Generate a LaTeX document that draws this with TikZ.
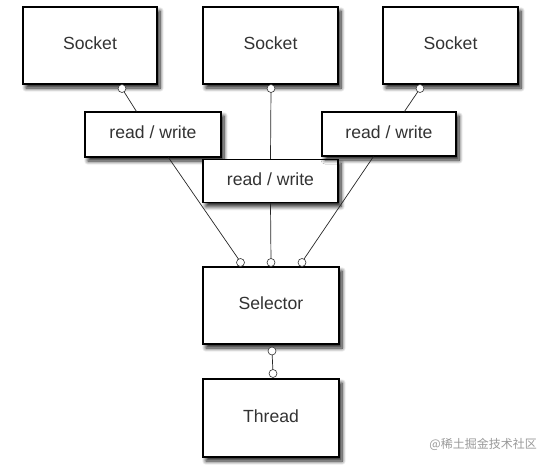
\documentclass[tikz,border=0pt]{standalone}
\usepackage{fontspec}
\setmainfont{Liberation Sans}
\newfontfamily\cjk{Noto Sans CJK SC}
\usetikzlibrary{shadows.blur}
\begin{document}
\begin{tikzpicture}[x=1pt,y=-1pt,
  box/.style={draw=black, line width=1.1pt, fill=white, inner sep=0pt,
    font=\fontsize{17.6}{20}\selectfont, text=black!80, text height=12.6pt, text depth=4pt,
    blur shadow={shadow xshift=3pt, shadow yshift=-4pt, shadow blur radius=4pt, shadow blur steps=8, shadow opacity=90}},
  port/.style={circle, draw=black!80, fill=white, line width=0.6pt, inner sep=0pt, minimum size=8pt},
  wire/.style={draw=black!85, line width=0.7pt}]
\useasboundingbox (0,0) rectangle (541,464);
% sockets
\node[box, minimum width=134pt, minimum height=77pt] (s1) at (90,45.5) {Socket};
\node[box, minimum width=135pt, minimum height=77pt] (s2) at (270.5,45.5) {Socket};
\node[box, minimum width=135pt, minimum height=77pt] (s3) at (450.5,45.5) {Socket};
% read / write
\node[box, minimum width=136pt, minimum height=45pt] (rw1) at (153,134.5) {read / write};
\node[box, minimum width=135pt, minimum height=43pt] (rw2) at (270.5,181) {read / write};
\node[box, minimum width=134pt, minimum height=44pt] (rw3) at (389,134) {read / write};
% selector & thread
\node[box, minimum width=136pt, minimum height=77pt] (sel) at (271,305.5) {Selector};
\node[box, minimum width=136pt, minimum height=78pt] (thr) at (271,418) {Thread};
% wires
\draw[wire] (122,88.5) -- ([xshift=52pt]rw1.north west);
\draw[wire] (271,88.5) -- (rw2.north);
\draw[wire] (420,88.5) -- ([xshift=83pt]rw3.north west);
\draw[wire] ([xshift=84pt]rw1.south west) -- (240.5,262);
\draw[wire] (rw2.south) -- (271,262);
\draw[wire] ([xshift=52pt]rw3.south west) -- (302,262);
\draw[wire] (272,351) -- (273,373);
% ports
\node[port] (ps1) at (122,88.5) {};
\node[port] (ps2) at (271,88.5) {};
\node[port] (ps3) at (420,88.5) {};
\node[port] (pa) at (240.5,262.5) {};
\node[port] (pb) at (271,262.5) {};
\node[port] (pc) at (302,262.5) {};
\node[port] (pd) at (272,351) {};
\node[port] (pe) at (273,373.5) {};
% watermark
\node[anchor=east, text=black!40, font=\cjk\fontsize{12}{13}\selectfont, inner sep=0pt] (wm) at (537,444) {@稀土掘金技术社区};
\end{tikzpicture}
\end{document}
